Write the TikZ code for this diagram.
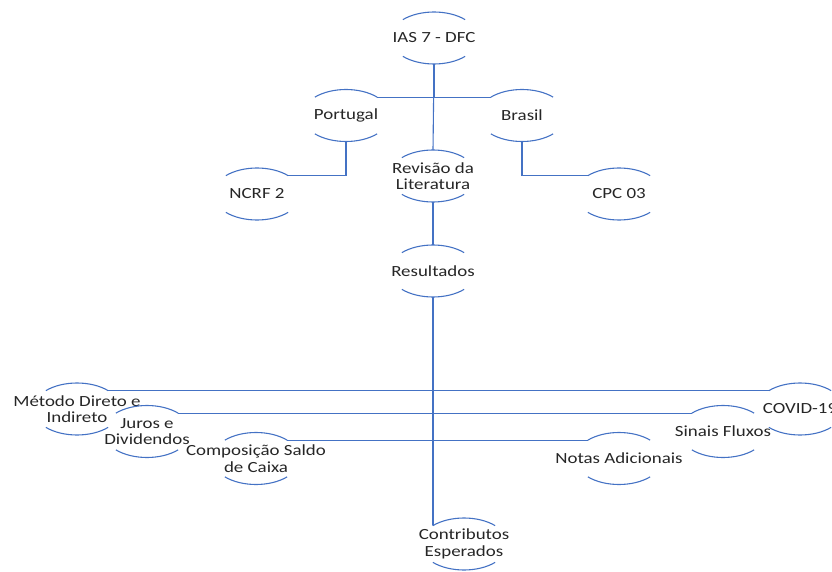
\documentclass[tikz,border=0pt]{standalone}
\usepackage{fontspec}
\setmainfont{Carlito}[FakeStretch=1.22]
\usetikzlibrary{shapes.geometric}

\definecolor{linkblue}{RGB}{68,114,196}
\definecolor{labelgray}{RGB}{38,38,38}

\begin{document}
\begin{tikzpicture}[
            x = 1pt, y = 1pt,
            topic/.style = {
                ellipse,
                minimum width = 88pt,
                minimum height = 52pt,
                inner sep = 0pt, outer sep = 0pt,
            },
            every label/.style = {
                align = center,
                text = labelgray,
                font = \fontsize{15.5}{16.5}\selectfont,
            },
            ring/.style = {draw = linkblue, line width = 1.1pt},
            link/.style = {draw = linkblue, line width = 1.1pt},
            elbow/.style = {to path = {|- (\tikztotarget)}},
        ]

        \useasboundingbox (0,0) rectangle (832,571);

        % Nós
        \node[topic, label = {center:IAS 7 - DFC}] (ias) at (434,533) {};
        \node[topic, label = {center:Portugal}] (portugal) at (346,455.5) {};
        \node[topic, label = {center:Brasil}] (brasil) at (522,455.5) {};
        \node[topic, label = {center:Revisão da\\Literatura}] (revisao) at (433,395) {};
        \node[topic, label = {center:NCRF 2}] (ncrf) at (257,377) {};
        \node[topic, label = {center:CPC 03}] (cpc) at (619,377) {};
        \node[topic, label = {center:Resultados}] (resultados) at (433,300) {};
        \node[topic, label = {center:Método Direto e\\Indireto}] (metodo) at (77,162) {};
        \node[topic, label = {center:Juros e\\Dividendos}] (juros) at (147,139.5) {};
        \node[topic, label = {center:Composição Saldo\\de Caixa}] (composicao) at (256,112.5) {};
        \node[topic, label = {center:COVID-19}] (covid) at (800,162) {};
        \node[topic, label = {center:Sinais Fluxos}] (sinais) at (723,139.5) {};
        \node[topic, label = {center:Notas Adicionais}] (notas) at (619,112.5) {};
        \node[topic, label = {center:Contributos\\Esperados}] (contributos) at (464,27) {};

        % Arcos
        \foreach \topicname in {ias, portugal, brasil, revisao, ncrf, cpc, resultados,
                metodo, juros, composicao, covid, sinais, notas, contributos}
            \draw[ring]
                (\topicname.north east) arc[start angle = 45, end angle = 135, x radius = 44pt, y radius = 26pt]
                (\topicname.south west) arc[start angle = 225, end angle = 315, x radius = 44pt, y radius = 26pt];

        % Ligações
        \path
        [
            link
        ]
            (ias.south) edge[elbow] (portugal.north east)
            (ias.south) edge[elbow] (brasil.north west)
            (ias.south) edge (revisao.north)
            (portugal.south) edge[elbow] (ncrf.north east)
            (brasil.south) edge[elbow] (cpc.north west)
            (revisao.south) edge (resultados.north);

        \path
        [
            link
        ]
            (resultados.south) edge[elbow] (metodo.north east)
            (resultados.south) edge[elbow] (covid.north west)
            (resultados.south) edge[elbow] (juros.north east)
            (resultados.south) edge[elbow] (sinais.north west)
            (resultados.south) edge[elbow] (composicao.north east)
            (resultados.south) edge[elbow] (notas.north west)
            (resultados.south) edge[elbow] (contributos.north west);

    \end{tikzpicture}
\end{document}
